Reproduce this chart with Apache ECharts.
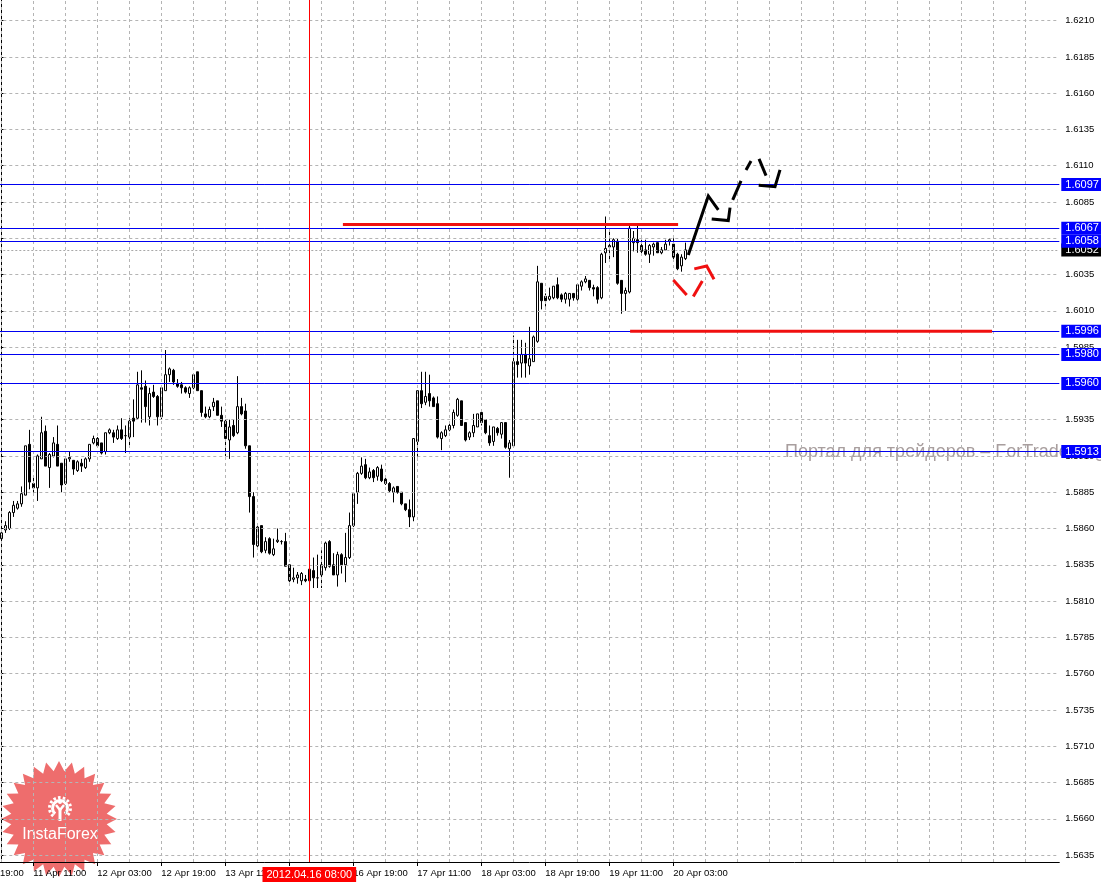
<!DOCTYPE html>
<html><head><meta charset="utf-8">
<script src="https://cdn.jsdelivr.net/npm/echarts@6/dist/echarts.min.js"></script>
<style>html,body{margin:0;padding:0;background:#fff}#c{width:1101px;height:883px}</style>
</head><body><div id="c"></div>
<script>
// H1 candles from 11 Apr 03:00, [open, close, low, high]
const ohlc = [
[1.5853,1.5857,1.5850,1.5857],[1.5859,1.5862,1.5857,1.5865],[1.5860,1.5871,1.5859,1.5872],[1.5871,1.5876,1.5868,1.5879],
[1.5874,1.5877,1.5873,1.5879],[1.5877,1.5884,1.5875,1.5889],[1.5883,1.5917,1.5883,1.5917],[1.5918,1.5892,1.5887,1.5928],
[1.5891,1.5888,1.5883,1.5895],[1.5888,1.5910,1.5879,1.5911],[1.5908,1.5926,1.5908,1.5937],[1.5927,1.5903,1.5903,1.5931],
[1.5902,1.5911,1.5888,1.5912],[1.5910,1.5919,1.5909,1.5923],[1.5918,1.5903,1.5903,1.5931],[1.5905,1.5890,1.5885,1.5905],
[1.5891,1.5908,1.5890,1.5908],[1.5908,1.5909,1.5906,1.5913],[1.5907,1.5901,1.5897,1.5907],[1.5900,1.5906,1.5899,1.5907],
[1.5905,1.5903,1.5899,1.5908],[1.5902,1.5908,1.5901,1.5909],[1.5908,1.5918,1.5906,1.5918],[1.5919,1.5922,1.5918,1.5924],
[1.5922,1.5917,1.5917,1.5923],[1.5919,1.5912,1.5911,1.5919],[1.5913,1.5926,1.5911,1.5926],[1.5926,1.5928,1.5925,1.5929],
[1.5926,1.5923,1.5919,1.5928],[1.5922,1.5928,1.5921,1.5931],[1.5928,1.5922,1.5921,1.5936],[1.5924,1.5924,1.5912,1.5931],
[1.5923,1.5934,1.5917,1.5936],[1.5936,1.5934,1.5923,1.5949],[1.5936,1.5959,1.5935,1.5968],[1.5957,1.5956,1.5933,1.5969],
[1.5958,1.5944,1.5933,1.5962],[1.5937,1.5953,1.5931,1.5957],[1.5954,1.5951,1.5950,1.5959],[1.5951,1.5937,1.5931,1.5952],
[1.5937,1.5957,1.5935,1.5957],[1.5955,1.5966,1.5955,1.5983],[1.5966,1.5970,1.5961,1.5971],[1.5969,1.5961,1.5959,1.5970],
[1.5960,1.5958,1.5957,1.5963],[1.5959,1.5957,1.5953,1.5961],[1.5957,1.5954,1.5953,1.5958],[1.5953,1.5957,1.5950,1.5958],
[1.5957,1.5966,1.5956,1.5967],[1.5968,1.5955,1.5955,1.5968],[1.5955,1.5940,1.5937,1.5955],[1.5939,1.5937,1.5936,1.5944],
[1.5937,1.5942,1.5936,1.5944],[1.5944,1.5947,1.5941,1.5950],[1.5948,1.5938,1.5938,1.5948],[1.5938,1.5934,1.5930,1.5944],
[1.5934,1.5922,1.5910,1.5935],[1.5921,1.5930,1.5908,1.5935],[1.5931,1.5924,1.5923,1.5935],[1.5926,1.5944,1.5925,1.5965],
[1.5944,1.5939,1.5938,1.5950],[1.5941,1.5917,1.5915,1.5946],[1.5917,1.5882,1.5871,1.5917],[1.5882,1.5849,1.5840,1.5885],
[1.5848,1.5861,1.5847,1.5862],[1.5862,1.5844,1.5843,1.5862],[1.5845,1.5851,1.5843,1.5854],[1.5853,1.5843,1.5842,1.5854],
[1.5842,1.5846,1.5841,1.5853],[1.5851,1.5852,1.5850,1.5860],[1.5851,1.5851,1.5849,1.5852],[1.5851,1.5834,1.5834,1.5857],
[1.5835,1.5824,1.5823,1.5835],[1.5825,1.5826,1.5823,1.5833],[1.5826,1.5828,1.5822,1.5830],[1.5824,1.5829,1.5821,1.5830],
[1.5825,1.5824,1.5823,1.5828],[1.5824,1.5832,1.5823,1.5833],[1.5831,1.5826,1.5819,1.5840],[1.5826,1.5826,1.5819,1.5842],
[1.5828,1.5835,1.5819,1.5845],[1.5833,1.5850,1.5831,1.5851],[1.5851,1.5834,1.5833,1.5852],[1.5835,1.5828,1.5828,1.5843],
[1.5828,1.5842,1.5820,1.5844],[1.5842,1.5835,1.5829,1.5843],[1.5835,1.5840,1.5823,1.5857],[1.5840,1.5862,1.5839,1.5871],
[1.5862,1.5884,1.5861,1.5885],[1.5885,1.5898,1.5877,1.5899],[1.5898,1.5903,1.5897,1.5909],[1.5904,1.5895,1.5894,1.5908],
[1.5895,1.5899,1.5894,1.5902],[1.5900,1.5895,1.5892,1.5901],[1.5896,1.5902,1.5893,1.5903],[1.5901,1.5893,1.5892,1.5904],
[1.5894,1.5891,1.5890,1.5895],[1.5891,1.5886,1.5885,1.5892],[1.5885,1.5888,1.5878,1.5889],[1.5889,1.5885,1.5884,1.5889],
[1.5885,1.5877,1.5876,1.5885],[1.5877,1.5873,1.5872,1.5877],[1.5873,1.5868,1.5861,1.5880],[1.5868,1.5922,1.5865,1.5922],
[1.5920,1.5955,1.5907,1.5955],[1.5955,1.5946,1.5943,1.5968],[1.5947,1.5951,1.5945,1.5968],[1.5953,1.5948,1.5944,1.5966],
[1.5950,1.5944,1.5944,1.5951],[1.5946,1.5923,1.5922,1.5951],[1.5922,1.5926,1.5914,1.5927],[1.5924,1.5928,1.5923,1.5931],
[1.5928,1.5931,1.5927,1.5932],[1.5931,1.5940,1.5929,1.5942],[1.5938,1.5949,1.5937,1.5950],[1.5948,1.5931,1.5931,1.5948],
[1.5933,1.5921,1.5920,1.5933],[1.5923,1.5926,1.5921,1.5927],[1.5926,1.5931,1.5923,1.5939],[1.5930,1.5939,1.5930,1.5939],
[1.5940,1.5933,1.5931,1.5940],[1.5935,1.5926,1.5925,1.5935],[1.5924,1.5919,1.5917,1.5931],[1.5920,1.5930,1.5917,1.5930],
[1.5929,1.5926,1.5924,1.5930],[1.5925,1.5933,1.5922,1.5933],[1.5933,1.5916,1.5915,1.5933],[1.5915,1.5919,1.5895,1.5921],
[1.5917,1.5975,1.5916,1.5993],[1.5975,1.5973,1.5964,1.5990],[1.5974,1.5980,1.5964,1.5990],[1.5980,1.5974,1.5964,1.5988],
[1.5972,1.5977,1.5966,1.5999],[1.5975,1.5992,1.5975,1.5993],[1.5989,1.6030,1.5988,1.6041],[1.6029,1.6017,1.6011,1.6029],
[1.6020,1.6017,1.6013,1.6022],[1.6018,1.6020,1.6017,1.6026],[1.6019,1.6027,1.6018,1.6027],[1.6028,1.6019,1.6018,1.6033],
[1.6021,1.6018,1.6016,1.6022],[1.6018,1.6022,1.6015,1.6023],[1.6018,1.6022,1.6013,1.6022],[1.6022,1.6019,1.6017,1.6022],
[1.6018,1.6028,1.6017,1.6029],[1.6027,1.6030,1.6024,1.6031],[1.6030,1.6032,1.6029,1.6034],[1.6031,1.6026,1.6024,1.6031],
[1.6026,1.6025,1.6020,1.6028],[1.6026,1.6018,1.6015,1.6027],[1.6019,1.6049,1.6018,1.6050],[1.6050,1.6053,1.6043,1.6075],
[1.6054,1.6055,1.6044,1.6067],[1.6054,1.6059,1.6047,1.6060],[1.6058,1.6029,1.6028,1.6060],[1.6031,1.6022,1.6008,1.6031],
[1.6022,1.6024,1.6010,1.6026],[1.6023,1.6067,1.6022,1.6069],[1.6057,1.6060,1.6051,1.6065],[1.6059,1.6057,1.6050,1.6069],
[1.6055,1.6051,1.6049,1.6059],[1.6052,1.6049,1.6048,1.6059],[1.6049,1.6055,1.6043,1.6056],[1.6054,1.6056,1.6048,1.6057],
[1.6057,1.6050,1.6050,1.6057],[1.6050,1.6052,1.6049,1.6054],[1.6052,1.6056,1.6052,1.6059],[1.6058,1.6059,1.6055,1.6060],
[1.6056,1.6047,1.6045,1.6060],[1.6049,1.6039,1.6038,1.6050],[1.6041,1.6047,1.6037,1.6049],[1.6046,1.6052,1.6045,1.6057]
];
const priceTicks = [1.5635,1.5660,1.5685,1.5710,1.5735,1.5760,1.5785,1.5810,1.5835,1.5860,1.5885,1.5910,
                    1.5935,1.5960,1.5985,1.6010,1.6035,1.6060,1.6085,1.6110,1.6135,1.6160,1.6185,1.6210];
const timeTickBars = [-8,8,24,40,56,72,88,104,120,136,152,168];
const timeTickLabels = ['10 Apr 19:00','11 Apr 11:00','12 Apr 03:00','12 Apr 19:00','13 Apr 11:00','16 Apr 03:00',
                        '16 Apr 19:00','17 Apr 11:00','18 Apr 03:00','18 Apr 19:00','19 Apr 11:00','20 Apr 03:00'];
const gridBars = [0,8,16,24,32,40,48,56,64,72,80,88,96,104,112,120,128,136,144,152,160,168,176,184,192,200,208,216,224,232,240,248,256];
const levelPrices = [1.6097,1.6067,1.6058,1.5996,1.5980,1.5960,1.5913];
const bidPrice = 1.6052;
const crosshairBar = 77;
const crosshairLabel = '2012.04.16 08:00';
const redLevelSegs = [
  [[85.4,1.60695],[169.2,1.60695]],
  [[157.2,1.5996],[247.7,1.5996]]
];
const redZigzag = [
  [[168.0,1.60313],[171.35,1.60210]],
  [[173.0,1.60198],[175.25,1.60306]],
  [[173.25,1.60389],[176.35,1.60409],[178.18,1.60318]]
];
const blackZigzag = [
  [[171.75,1.60485],[176.75,1.60892],[179.25,1.60795]],
  [[177.6,1.60733],[181.75,1.60722],[182.18,1.60811]],
  [[182.85,1.60864],[184.93,1.60995]],
  [[186.18,1.61071],[187.43,1.61133]],
  [[189.43,1.61147],[191.18,1.61032]],
  [[189.35,1.60966],[193.43,1.60956],[194.68,1.61071]]
];

const FONT = '"Liberation Sans", Arial, sans-serif';
const chart = echarts.init(document.getElementById('c'), null, {renderer:'canvas'});

// starburst logo shape (decoration)
const starPts = [];
(function(){const n=28;for(let i=0;i<2*n;i++){const r=(i%2)?48:58;const a=Math.PI*i/n-Math.PI/2;starPts.push([59+r*Math.cos(a),819+r*Math.sin(a)]);}})();

const boxLabel = (bg) => ({
  show:true, position:'end', distance:2, color:'#fff', backgroundColor:bg,
  padding:[1,4,0,4], fontSize:11, lineHeight:12, fontFamily:FONT,
  formatter:(p)=>Number(p.value).toFixed(4)
});

const levelData = [
  {yAxis:bidPrice, lineStyle:{color:'#a8a8a8', type:[2,2], width:1}, label:boxLabel('#000000')}
].concat(levelPrices.map(p=>({yAxis:p, lineStyle:{color:'#0000f0', type:'solid', width:1}, label:boxLabel('#0000ff')})))
 .concat([{xAxis:crosshairBar, lineStyle:{color:'#ff0000', type:'solid', width:1},
   label:{show:true, position:'start', distance:5, formatter:crosshairLabel, color:'#fff', backgroundColor:'#ff0000',
          padding:[2,4,1,4], fontSize:11, lineHeight:12, fontFamily:FONT}}]);

const option = {
  animation:false,
  backgroundColor:'#ffffff',
  grid:{left:-32.7, right:41.7, top:0, bottom:21, outerBoundsMode:'none', containLabel:false},
  xAxis:{
    type:'value', min:-8.5, max:264.5,
    axisLine:{show:true, lineStyle:{color:'#000', width:1}},
    axisTick:{show:true, customValues:timeTickBars, length:4, lineStyle:{color:'#000'}},
    axisLabel:{customValues:timeTickBars, align:'left', margin:6, color:'#000', fontSize:9.5, fontFamily:FONT,
      formatter:(v)=>{const i=timeTickBars.indexOf(Math.round(v));return i>=0?timeTickLabels[i]:'';}},
    splitLine:{show:false}
  },
  yAxis:{
    type:'value', position:'right', min:1.56302, max:1.62242,
    axisLine:{show:true, lineStyle:{color:'#000', width:1}},
    axisTick:{show:true, customValues:priceTicks, length:3, lineStyle:{color:'#000'}},
    axisLabel:{customValues:priceTicks, margin:6, color:'#000', fontSize:9.5, fontFamily:FONT,
      formatter:(v)=>Number(v).toFixed(4)},
    splitLine:{show:false}
  },
  graphic:[
    {type:'polygon', z:-1, shape:{points:starPts}, style:{fill:'rgba(232,52,52,0.72)'}},
    {type:'arc', z:-1, shape:{cx:60, cy:808, r:7.5, startAngle:Math.PI/2+0.7, endAngle:Math.PI/2-0.7+2*Math.PI}, style:{stroke:'#fff', lineWidth:3, fill:null}},
    {type:'arc', z:-1, shape:{cx:60, cy:808, r:10.5, startAngle:Math.PI/2+0.7, endAngle:Math.PI/2-0.7+2*Math.PI}, style:{stroke:'#fff', lineWidth:3, lineDash:[2.5,2.2], fill:null}},
    {type:'polyline', z:-1, shape:{points:[[56,805],[60,810],[64,805]]}, style:{stroke:'#fff', lineWidth:2.5, fill:null}},
    {type:'line', z:-1, shape:{x1:60, y1:809, x2:60, y2:821}, style:{stroke:'#fff', lineWidth:3}},
    {type:'circle', z:-1, shape:{cx:60, cy:802, r:2}, style:{fill:'#fff'}},
    {type:'text', z:-1, x:60, y:835, style:{text:'InstaForex', fill:'#fff', font:'16px '+FONT, align:'center', verticalAlign:'middle', textAlign:'center', textVerticalAlign:'middle'}},
    {type:'text', z:1, x:785, y:452, style:{text:'Портал для трейдеров – ForTrader.org', fill:'#a89e9e', font:'18px '+FONT, align:'left', verticalAlign:'middle', textAlign:'left', textVerticalAlign:'middle'}}
  ],
  series:[
    {type:'line', data:[], z:1, silent:true, clip:false,
     markLine:{silent:true, precision:6, symbol:['none','none'], animation:false, label:{show:false},
       lineStyle:{color:'#b4b4b4', type:[3,3], width:1},
       data: gridBars.map(b=>({xAxis:b})).concat(priceTicks.map(p=>({yAxis:p})))}},
    {type:'candlestick', z:3, barWidth:3,
     data: ohlc.map((d,i)=>[i,d[0],d[1],d[2],d[3]]),
     itemStyle:{color:'#ffffff', color0:'#000000', borderColor:'#000000', borderColor0:'#000000', borderWidth:1}},
    {type:'line', data:[], z:4, silent:true, clip:false,
     markLine:{silent:true, precision:6, symbol:['none','none'], animation:false, data:levelData}},
    {type:'lines', coordinateSystem:'cartesian2d', polyline:true, z:5, silent:true,
     lineStyle:{width:3, opacity:1, color:'#f01010'},
     data: redLevelSegs.concat(redZigzag).map(c=>({coords:c}))},
    {type:'lines', coordinateSystem:'cartesian2d', polyline:true, z:6, silent:true,
     lineStyle:{width:3, opacity:1, color:'#000000'},
     data: blackZigzag.map(c=>({coords:c}))}
  ]
};
chart.setOption(option);
</script></body></html>
